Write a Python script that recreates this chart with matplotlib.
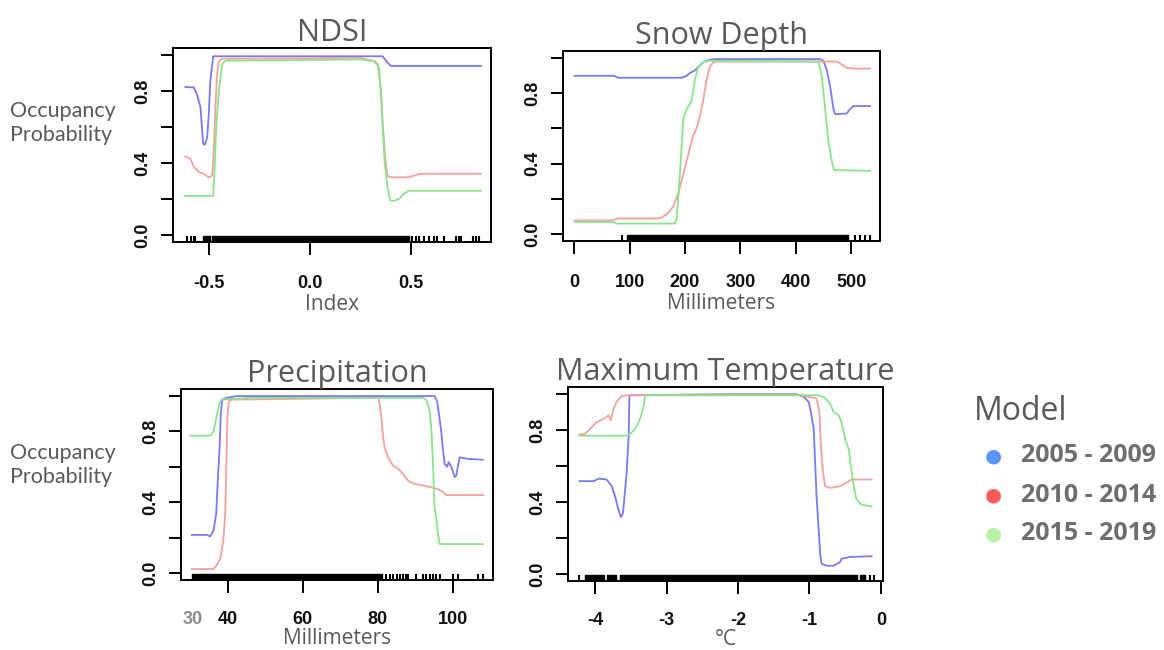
import matplotlib
matplotlib.use('Agg')
from matplotlib import pyplot as plt

W, H = 1164, 650

# ---- NDSI ----
ndsi_blue_x = [-0.617, -0.575, -0.559, -0.542, -0.529, -0.521, -0.509, -0.501, -0.493, -0.479, 0.359, 0.383, 0.400, 0.846]
ndsi_blue_y = [0.823, 0.82, 0.78, 0.71, 0.51, 0.50, 0.54, 0.67, 0.86, 0.994, 0.994, 0.96, 0.94, 0.94]
ndsi_red_x = [-0.617, -0.592, -0.575, -0.550, -0.526, -0.501, -0.484, -0.476, -0.468, -0.460, -0.451, -0.435, 0.250, 0.319, 0.336, 0.352, 0.360, 0.372, 0.383, 0.400, 0.483, 0.516, 0.549, 0.846]
ndsi_red_y = [0.436, 0.424, 0.378, 0.35, 0.34, 0.32, 0.33, 0.47, 0.71, 0.89, 0.967, 0.98, 0.985, 0.967, 0.95, 0.80, 0.62, 0.43, 0.33, 0.32, 0.32, 0.33, 0.34, 0.34]
ndsi_green_x = [-0.621, -0.479, -0.473, -0.463, -0.451, -0.435, -0.418, -0.377, 0.251, 0.317, 0.342, 0.350, 0.359, 0.370, 0.383, 0.397, 0.417, 0.441, 0.466, 0.491, 0.846]
ndsi_green_y = [0.217, 0.217, 0.34, 0.62, 0.80, 0.95, 0.97, 0.97, 0.976, 0.967, 0.93, 0.80, 0.62, 0.40, 0.27, 0.19, 0.19, 0.20, 0.23, 0.245, 0.245]
ndsi_rug_blocks = [(-0.529, -0.493), (-0.484, 0.491)]
ndsi_rug_ticks = [-0.61, -0.59, -0.575, -0.567, 0.507, 0.524, 0.54, 0.565, 0.59, 0.615, 0.631, 0.664, 0.722, 0.739, 0.747, 0.805, 0.821, 0.838]

# ---- Snow Depth ----
snow_blue_x = [1, 73, 79, 194, 203, 209, 218, 224, 233, 245, 257, 444, 450, 456, 462, 468, 471, 492, 498, 504, 534]
snow_blue_y = [0.899, 0.899, 0.888, 0.888, 0.899, 0.915, 0.93, 0.948, 0.976, 0.991, 0.994, 0.994, 0.985, 0.93, 0.84, 0.71, 0.68, 0.685, 0.71, 0.727, 0.727]
snow_red_x = [1, 70, 79, 155, 161, 170, 179, 188, 197, 206, 215, 221, 227, 233, 239, 245, 251, 257, 474, 483, 492, 504, 534]
snow_red_y = [0.077, 0.077, 0.088, 0.088, 0.10, 0.12, 0.157, 0.23, 0.34, 0.45, 0.56, 0.60, 0.67, 0.76, 0.875, 0.95, 0.976, 0.98, 0.98, 0.963, 0.945, 0.94, 0.94]
snow_green_x = [1, 70, 76, 182, 185, 191, 197, 203, 212, 218, 224, 233, 245, 441, 447, 453, 459, 465, 469, 534]
snow_green_y = [0.068, 0.068, 0.059, 0.059, 0.083, 0.34, 0.65, 0.71, 0.755, 0.875, 0.95, 0.976, 0.985, 0.98, 0.893, 0.71, 0.525, 0.414, 0.363, 0.359]
snow_rug_blocks = [(95, 495)]
snow_rug_ticks = [87, 507, 516, 525, 534]

# ---- Precipitation ----
prec_blue_x = [30.4, 34.4, 35.3, 36.2, 36.9, 37.3, 37.8, 38.1, 38.5, 39.7, 42.4, 95.1, 95.8, 96.3, 96.9, 97.4, 97.8, 98.4, 98.9, 99.6, 100.5, 100.9, 101.3, 101.8, 102.7, 104.0, 108.0]
prec_blue_y = [0.215, 0.215, 0.206, 0.243, 0.336, 0.52, 0.71, 0.897, 0.98, 0.99, 1.0, 1.0, 0.97, 0.897, 0.80, 0.69, 0.617, 0.60, 0.626, 0.598, 0.542, 0.55, 0.598, 0.654, 0.65, 0.645, 0.64]
prec_red_x = [30.4, 36.2, 37.1, 38.0, 38.8, 39.3, 39.6, 39.9, 40.3, 41.1, 80.1, 80.5, 81.0, 81.4, 81.8, 82.7, 84.0, 85.4, 86.7, 88.0, 89.4, 92.0, 93.8, 95.6, 97.4, 98.2, 108.0]
prec_red_y = [0.022, 0.022, 0.047, 0.084, 0.187, 0.336, 0.617, 0.897, 0.972, 0.98, 0.99, 0.953, 0.86, 0.766, 0.71, 0.654, 0.607, 0.589, 0.56, 0.523, 0.505, 0.495, 0.486, 0.477, 0.458, 0.44, 0.44]
prec_green_x = [30.0, 35.3, 36.2, 37.1, 37.8, 38.4, 45.9, 92.0, 92.9, 93.8, 94.3, 94.7, 95.1, 95.6, 96.0, 96.5, 108.0]
prec_green_y = [0.776, 0.776, 0.80, 0.897, 0.963, 0.98, 0.99, 0.99, 0.98, 0.916, 0.80, 0.617, 0.374, 0.30, 0.224, 0.163, 0.163]
prec_rug_blocks = [(30.4, 81.0)]
prec_rug_ticks = [82.3, 83.2, 84.1, 85.0, 85.9, 86.7, 87.6, 88.0, 90.3, 92.0, 92.9, 93.8, 94.7, 95.6, 96.5, 100.0, 101.4, 106.7, 108.0]

# ---- Maximum Temperature ----
temp_blue_x = [-4.22, -4.02, -3.95, -3.84, -3.77, -3.72, -3.68, -3.64, -3.61, -3.58, -3.56, -3.53, -3.52, -2.06, -1.18, -1.08, -1.01, -0.98, -0.94, -0.92, -0.90, -0.87, -0.85, -0.83, -0.76, -0.66, -0.57, -0.55, -0.43, -0.13]
temp_blue_y = [0.516, 0.516, 0.53, 0.525, 0.49, 0.43, 0.366, 0.315, 0.338, 0.47, 0.56, 0.77, 0.994, 1.0, 1.0, 0.985, 0.957, 0.90, 0.807, 0.62, 0.43, 0.244, 0.113, 0.056, 0.045, 0.045, 0.066, 0.084, 0.094, 0.098]
temp_red_x = [-4.22, -4.14, -4.07, -3.98, -3.88, -3.81, -3.78, -3.74, -3.70, -3.63, -3.53, -1.13, -0.90, -0.86, -0.84, -0.81, -0.78, -0.71, -0.64, -0.57, -0.48, -0.41, -0.13]
temp_red_y = [0.775, 0.78, 0.807, 0.844, 0.863, 0.882, 0.854, 0.92, 0.957, 0.99, 0.994, 0.994, 0.976, 0.90, 0.713, 0.563, 0.488, 0.478, 0.483, 0.488, 0.507, 0.525, 0.525]
temp_green_x = [-4.22, -3.56, -3.51, -3.44, -3.37, -3.32, -3.30, -0.90, -0.80, -0.71, -0.66, -0.59, -0.55, -0.50, -0.45, -0.42, -0.38, -0.34, -0.27, -0.13]
temp_green_y = [0.769, 0.769, 0.778, 0.807, 0.863, 0.938, 0.994, 0.994, 0.985, 0.947, 0.90, 0.882, 0.844, 0.75, 0.694, 0.60, 0.488, 0.413, 0.385, 0.375]
temp_rug_blocks = [(-4.14, -3.88), (-3.84, -3.71), (-3.65, -0.34), (-0.29, -0.22)]
temp_rug_ticks = [-4.22, -0.15, -0.10]

models = ['2005 - 2009', '2010 - 2014', '2015 - 2019']
line_cols = ['#7a7af2', '#f7a0a0', '#8ae48a']
dot_cols = ['#5b96ff', '#ff5a5a', '#b8f0a4']

TXT = '#595959'
TICKLEN = 9


def box(l, t, r, b):
    return fig.add_axes([l / W, 1 - b / H, (r - l) / W, (b - t) / H])


def panel(ax, xs, ys, rug_blocks, rug_ticks, xlim, xticks, xticklabels, title, xlabel, xpad=15, lpad=1):
    for x, y, c in zip(xs, ys, line_cols):
        ax.plot(x, y, color=c, lw=1.3)
    tr = ax.get_xaxis_transform()
    ax.broken_barh([(a, b - a) for a, b in rug_blocks], (0, 0.032), color='black', transform=tr)
    ax.vlines(rug_ticks, 0, 0.032, color='black', lw=1.5, transform=tr)
    ax.set_xlim(*xlim)
    ax.set_ylim(-0.04, 1.04)
    ax.set_xticks(xticks)
    ax.set_xticklabels(xticklabels)
    ax.set_yticks([0, 0.2, 0.4, 0.6, 0.8, 1.0])
    ax.set_yticklabels(['0.0', '', '0.4', '', '0.8', ''], rotation=90, va='center')
    ax.tick_params(length=TICKLEN, width=1.4, color='black', labelsize=13, labelcolor='#111111')
    ax.tick_params(axis='x', pad=xpad)
    ax.tick_params(axis='y', pad=7)
    for lab in ax.get_xticklabels() + ax.get_yticklabels():
        lab.set_fontweight('bold')
        lab.set_family('Liberation Sans')
    for s in ax.spines.values():
        s.set_linewidth(1.4)
        s.set_color('black')
    ax.set_title(title, fontsize=22, color=TXT, family='Open Sans', pad=3)
    ax.set_xlabel(xlabel, fontsize=15, color=TXT, family='Open Sans', labelpad=lpad)


fig = plt.figure(figsize=(W / 100, H / 100), dpi=100)

ax1 = box(173, 48, 491, 242)
panel(ax1, [ndsi_blue_x, ndsi_red_x, ndsi_green_x], [ndsi_blue_y, ndsi_red_y, ndsi_green_y],
      ndsi_rug_blocks, ndsi_rug_ticks, (-0.678, 0.896), [-0.5, 0.0, 0.5], ['-0.5', '0.0', '0.5'],
      'NDSI', 'Index')

ax2 = box(563, 51, 880, 241)
panel(ax2, [snow_blue_x, snow_red_x, snow_green_x], [snow_blue_y, snow_red_y, snow_green_y],
      snow_rug_blocks, snow_rug_ticks, (-20, 552), [0, 100, 200, 300, 400, 500],
      ['0', '100', '200', '300', '400', '500'], 'Snow Depth', 'Millimeters')

ax3 = box(181, 389, 493, 580)
panel(ax3, [prec_blue_x, prec_red_x, prec_green_x], [prec_blue_y, prec_red_y, prec_green_y],
      prec_rug_blocks, prec_rug_ticks, (27.5, 110.7), [40, 60, 80, 100], ['40', '60', '80', '100'],
      'Precipitation', 'Millimeters', xpad=13, lpad=0)
ax3.annotate('30', xy=(30.5, 0), xycoords=('data', 'axes fraction'), textcoords='offset points',
             xytext=(0, -(TICKLEN + 13)), color='#8c8c8c', fontsize=13, fontweight='bold',
             family='Liberation Sans', ha='center', va='top', annotation_clip=False)

ax4 = box(568, 387, 883, 581)
panel(ax4, [temp_blue_x, temp_red_x, temp_green_x], [temp_blue_y, temp_red_y, temp_green_y],
      temp_rug_blocks, temp_rug_ticks, (-4.38, 0.03), [-4, -3, -2, -1, 0], ['-4', '-3', '-2', '-1', '0'],
      'Maximum Temperature', '°C', xpad=13, lpad=0)

for yc in [123, 465]:
    fig.text(10 / W, 1 - yc / H, 'Occupancy\nProbability', fontsize=15.5, color=TXT, family='Lato',
             ha='left', va='center', linespacing=1.3)

# legend
fig.text(974 / W, 1 - 412 / H, 'Model', fontsize=23, color=TXT, family='Open Sans', ha='left', va='center')
for i, (m, c) in enumerate(zip(models, dot_cols)):
    yy = 1 - (456 + 39 * i) / H
    fig.text(993 / W, yy, '\u25cf', fontsize=14, color=c, ha='center', va='center')
    fig.text(1021 / W, yy, m, fontsize=18, color='#6e6e6e', family='Open Sans', fontweight='bold',
             ha='left', va='center')

fig.savefig('out.png', dpi=100)
